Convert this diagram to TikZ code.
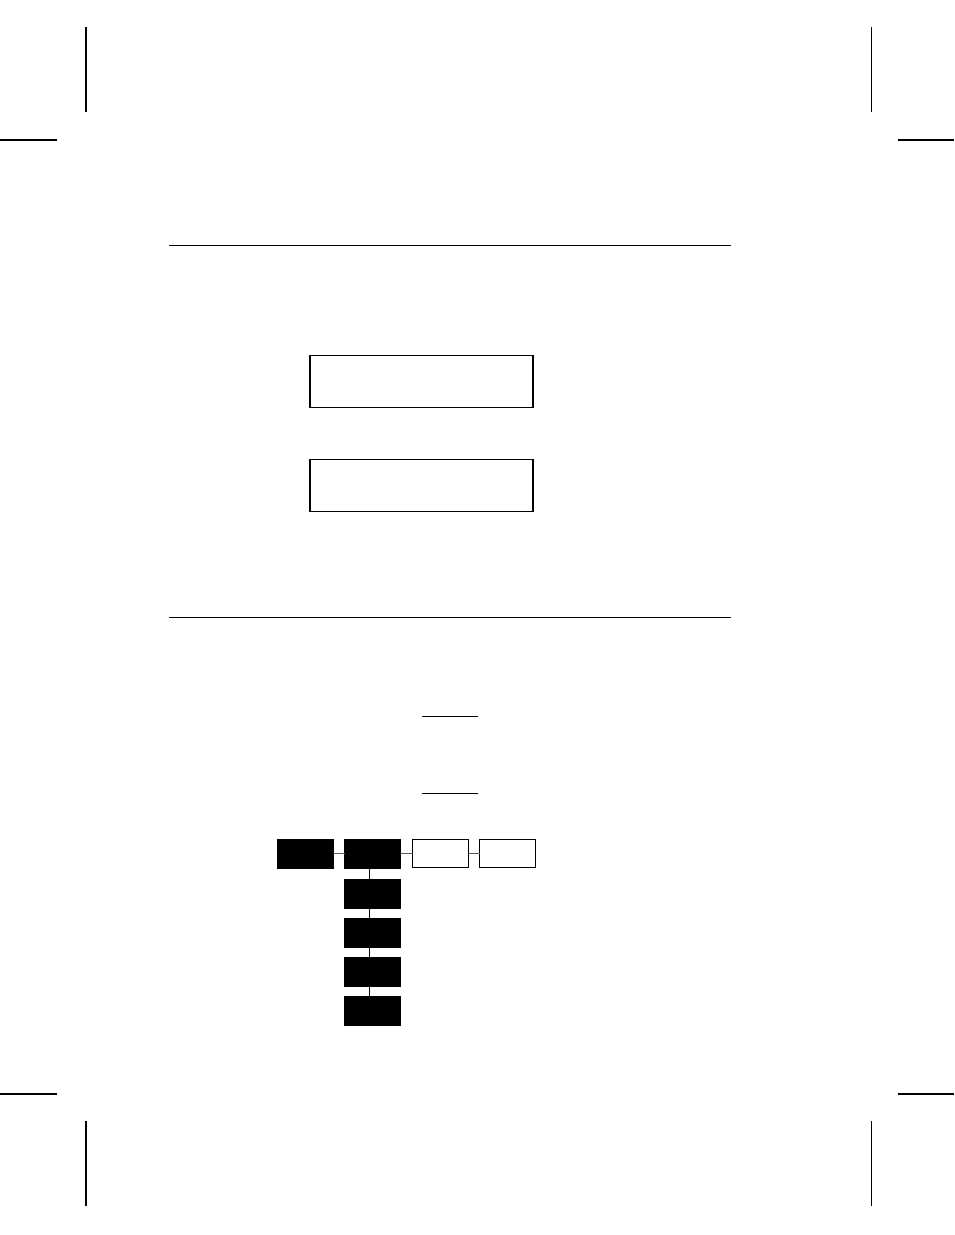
\documentclass[tikz,border=0pt]{standalone}
\begin{document}
\begin{tikzpicture}[x=1pt,y=-1pt,
  crop/.style={line width=1.3pt,black},
  rule/.style={line width=1pt,black},
  panel/.style={draw=black,line width=1.5pt,fill=white,minimum width=223pt,minimum height=52pt,inner sep=0pt,outer sep=0pt},
  darkbox/.style={draw=black,fill=black,line width=0.5pt,minimum width=56pt,minimum height=29pt,inner sep=0pt,outer sep=0pt},
  lightbox/.style={draw=black,fill=white,line width=1pt,minimum width=56pt,minimum height=28pt,inner sep=0pt,outer sep=0pt},
  hlink/.style={line width=1pt,black!65},
  vlink/.style={line width=1pt,black}]
\useasboundingbox (0,0) rectangle (954,1235);
% crop marks
\draw[crop] (86,27) -- (86,112);
\draw[crop] (0,140) -- (57,140);
\draw[crop] (871.5,27) -- (871.5,112);
\draw[crop] (898,140) -- (954,140);
\draw[crop] (86,1121) -- (86,1206);
\draw[crop] (0,1094) -- (57,1094);
\draw[crop] (871.5,1121) -- (871.5,1206);
\draw[crop] (898,1094) -- (954,1094);
% rules
\draw[rule] (169,245) -- (731,245);
\draw[rule] (169,617) -- (731,617);
% panels
\node[panel] (p1) at (421.5,381.5) {};
\node[panel] (p2) at (421.5,485.5) {};
% short lines
\draw[rule] (422,716) -- (478,716);
\draw[rule] (422,793) -- (478,793);
% tree
\node[darkbox] (a) at (305.5,853.5) {};
\node[darkbox] (b) at (372.5,853.5) {};
\node[lightbox] (c) at (440.5,853.5) {};
\node[lightbox] (d) at (507.5,853.5) {};
\node[darkbox] (b1) at (372.5,893.5) {};
\node[darkbox] (b2) at (372.5,932.5) {};
\node[darkbox] (b3) at (372.5,971.5) {};
\node[darkbox] (b4) at (372.5,1011) {};
\draw[hlink] (a.east) -- (b.west);
\draw[hlink] (b.east) -- (c.west);
\draw[hlink] (c.east) -- (d.west);
\draw[vlink] (b.south -| 369.5,0) -- (b1.north -| 369.5,0);
\draw[vlink] (b1.south -| 369.5,0) -- (b2.north -| 369.5,0);
\draw[vlink] (b2.south -| 369.5,0) -- (b3.north -| 369.5,0);
\draw[vlink] (b3.south -| 369.5,0) -- (b4.north -| 369.5,0);
\end{tikzpicture}
\end{document}
